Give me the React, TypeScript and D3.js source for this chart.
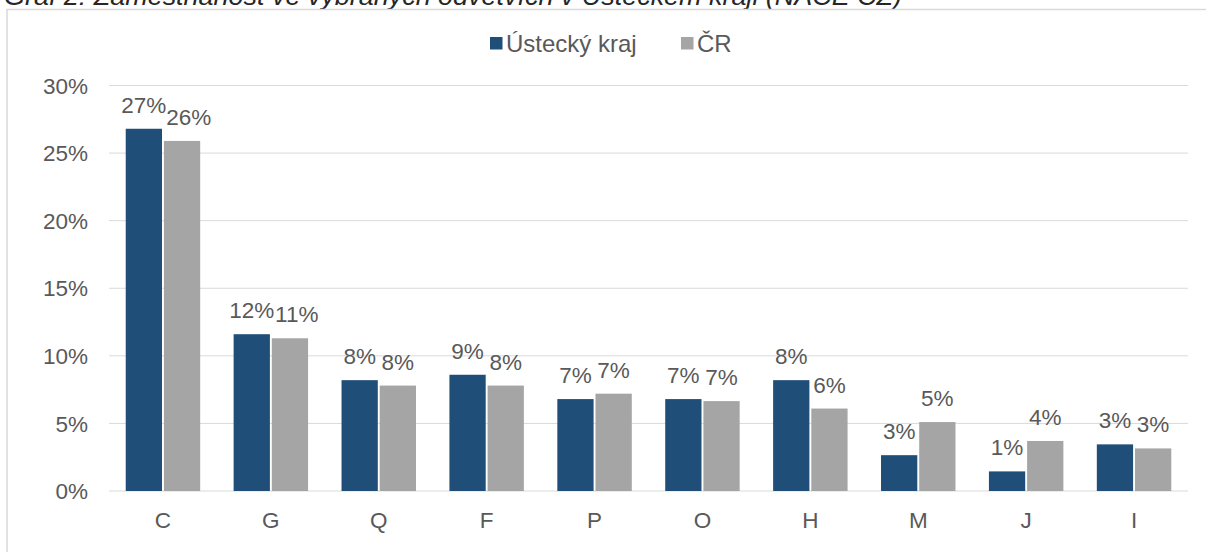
import React from "react";
import * as d3 from "d3";

const categories = ["C", "G", "Q", "F", "P", "O", "H", "M", "J", "I"];
const usteckyValues = [26.8, 11.6, 8.2, 8.6, 6.8, 6.8, 8.2, 2.65, 1.45, 3.45];
const crValues = [25.9, 11.3, 7.8, 7.8, 7.2, 6.65, 6.1, 5.1, 3.7, 3.15];
const yTicks = [0, 5, 10, 15, 20, 25, 30];
const seriesNames = ["Ústecký kraj", "ČR"];
const title = "Graf 2: Zaměstnanost ve vybraných odvětvích v Ústeckém kraji (NACE CZ)";

const COLORS = ["#1F4E79", "#A5A5A5"];
const FONT = "'Liberation Sans', Arial, sans-serif";
const TEXT = "#595959";

export default function App() {
  const W = 1206;
  const H = 552;
  const left = 109;
  const right = 1188;
  const top = 85.5;
  const bottom = 491;
  const fs = 22.5;

  const x = d3.scaleBand<string>().domain(categories).range([left, right]).paddingInner(0.31).paddingOuter(0.155);
  const x1 = d3.scaleBand<number>().domain([0, 1]).range([0, x.bandwidth()]).paddingInner(0.05);
  const y = d3.scaleLinear().domain([0, 30]).range([bottom, top]);
  const series = [usteckyValues, crValues];
  const labelW = (s: string) => (s.length - 1) * 0.556 * fs + 0.889 * fs;

  return (
    <svg width={W} height={H} style={{ position: "absolute", left: 0, top: 0, background: "#fff" }} fontFamily={FONT}>
      <text x={4} y={5} fontSize={26} fontStyle="italic" fill="#262626" textLength={898} lengthAdjust="spacingAndGlyphs">{title}</text>
      <rect x={7} y={9.5} width={1220} height={560} fill="none" stroke="#D9D9D9" strokeWidth={1.5} />
      {yTicks.map((t) => (
        <g key={t}>
          <line x1={left} x2={right} y1={y(t)} y2={y(t)} stroke="#D9D9D9" strokeWidth={1} />
          <text x={88} y={y(t)} dy="0.36em" textAnchor="end" fontSize={fs} fill={TEXT}>{t}%</text>
        </g>
      ))}
      {categories.map((c, i) => {
        const bx = x(c)!;
        const labels = series.map((s) => `${Math.round(s[i])}%`);
        const centers = series.map((_, k) => bx + x1(k)! + x1.bandwidth() / 2);
        const blueRight = centers[0] + labelW(labels[0]) / 2;
        const grayLeft = centers[1] - labelW(labels[1]) / 2;
        const shift = blueRight > grayLeft ? blueRight - grayLeft : 0;
        return (
          <g key={c}>
            {series.map((s, k) => (
              <rect key={k} x={bx + x1(k)!} y={y(s[i])} width={x1.bandwidth()} height={bottom - y(s[i])} fill={COLORS[k]} />
            ))}
            {series.map((s, k) => (
              <text key={"l" + k} x={centers[k] + (k === 1 ? shift : 0)} y={y(s[i]) - 16} textAnchor="middle" fontSize={fs} fill={TEXT}>
                {labels[k]}
              </text>
            ))}
            <text x={bx + x.bandwidth() / 2} y={528} textAnchor="middle" fontSize={fs} fill={TEXT}>{c}</text>
          </g>
        );
      })}
      <g>
        <rect x={490} y={37} width={12.5} height={12.5} fill={COLORS[0]} />
        <text x={506} y={52} fontSize={24} fill={TEXT}>{seriesNames[0]}</text>
        <rect x={681} y={37} width={12.5} height={12.5} fill={COLORS[1]} />
        <text x={697} y={52} fontSize={24} fill={TEXT}>{seriesNames[1]}</text>
      </g>
    </svg>
  );
}
